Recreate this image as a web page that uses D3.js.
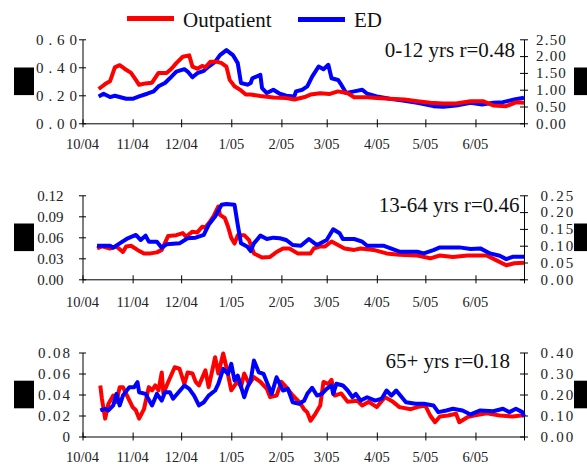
<!DOCTYPE html>
<html>
<head>
<meta charset="utf-8">
<script src="https://cdn.jsdelivr.net/npm/d3@7"></script>
<style>
	body { margin: 0; background: #fff; }
	svg, svg text { font-family: "Liberation Serif", "Times New Roman", Times, "DejaVu Serif", serif; }
</style>
</head>
<body>
<div id="chart-area"></div>
<script>

// ---- data (day = days since 1 Oct 2004) ----
let monthLabels = ["10/04", "11/04", "12/04", "1/05", "2/05", "3/05", "4/05", "5/05", "6/05"];
let ageGroups = ["0-12 yrs", "13-64 yrs", "65+ yrs"];
let rValues = ["0.48", "0.46", "0.18"];
let seriesNames = ["Outpatient", "ED"];

let leftTicks = [[0, 0.2, 0.4, 0.6], [0, 0.03, 0.06, 0.09, 0.12], [0, 0.02, 0.04, 0.06, 0.08]];
let leftTickLabels = [["0.00", "0.20", "0.40", "0.60"], ["0.00", "0.03", "0.06", "0.09", "0.12"], ["0", "0.02", "0.04", "0.06", "0.08"]];
let rightTicks = [[0, 0.5, 1, 1.5, 2, 2.5], [0, 0.05, 0.1, 0.15, 0.2, 0.25], [0, 0.1, 0.2, 0.3, 0.4]];

let outpatient012 = [[10,0.245],[14,0.28],[17,0.30],[20,0.40],[23,0.415],[26,0.39],[30,0.36],[33,0.31],[35,0.275],[39,0.285],
	[43,0.29],[47,0.36],[52,0.36],[55,0.39],[58,0.43],[62,0.475],[66,0.485],[68,0.405],[71,0.39],[74,0.41],[76,0.40],
	[79,0.44],[83,0.44],[86,0.43],[89,0.405],[91,0.31],[94,0.265],[98,0.235],[101,0.205],[104,0.205],[110,0.195],
	[118,0.185],[126,0.18],[131,0.17],[138,0.19],[141,0.205],[147,0.215],[153,0.21],[158,0.228],[164,0.215],[168,0.186],
	[176,0.186],[182,0.18],[190,0.175],[199,0.17],[207,0.157],[215,0.146],[223,0.141],[231,0.141],[240,0.157],[248,0.157],
	[254,0.127],[262,0.122],[268,0.15],[273,0.146]];
let ed012 = [[10,0.80],[13,0.88],[17,0.78],[20,0.82],[27,0.73],[31,0.73],[35,0.80],[40,0.88],[44,0.95],[47,1.10],[51,1.20],
	[54,1.34],[58,1.54],[63,1.61],[65,1.54],[68,1.37],[71,1.49],[75,1.56],[78,1.69],[82,1.83],[85,2.03],[89,2.18],[93,2.03],
	[96,1.79],[98,1.20],[102,1.15],[104,1.20],[105,1.34],[110,1.44],[111,1.05],[114,0.90],[118,1.0],[122,0.88],[126,0.82],
	[131,0.80],[132,0.95],[136,1.0],[139,1.10],[142,1.39],[146,1.69],[149,1.61],[152,1.74],[154,1.34],[158,1.29],[160,1.15],
	[163,0.90],[168,0.95],[173,1.0],[176,0.88],[182,0.80],[190,0.73],[198,0.68],[207,0.61],[217,0.51],[223,0.49],[231,0.53],
	[240,0.61],[247,0.56],[254,0.61],[260,0.63],[267,0.71],[273,0.76]];

let outpatient1364 = [[9,0.044],[12,0.047],[17,0.044],[21,0.047],[25,0.039],[27,0.047],[30,0.048],[34,0.042],[38,0.037],[42,0.037],
	[46,0.0385],[49,0.042],[53,0.062],[58,0.063],[62,0.066],[64,0.061],[68,0.068],[71,0.067],[74,0.075],[76,0.074],[79,0.083],
	[81,0.09],[84,0.104],[85,0.092],[88,0.0875],[90,0.075],[92,0.059],[94,0.051],[96,0.063],[100,0.063],[103,0.056],[106,0.037],
	[111,0.031],[116,0.032],[120,0.039],[124,0.044],[128,0.044],[133,0.037],[141,0.037],[143,0.044],[147,0.047],[150,0.047],
	[154,0.054],[158,0.049],[162,0.044],[168,0.042],[172,0.044],[180,0.042],[188,0.037],[196,0.035],[207,0.034],[215,0.030],
	[221,0.034],[229,0.032],[238,0.034],[250,0.034],[256,0.027],[262,0.020],[267,0.023],[273,0.0235]];
let ed1364 = [[9,0.10],[17,0.10],[19,0.094],[23,0.107],[28,0.122],[33,0.132],[36,0.117],[39,0.13],[41,0.112],[46,0.112],[49,0.094],
	[52,0.104],[60,0.107],[65,0.122],[70,0.124],[75,0.132],[78,0.162],[82,0.187],[86,0.222],[89,0.224],[94,0.222],[96,0.162],
	[98,0.107],[102,0.097],[104,0.084],[106,0.107],[110,0.13],[114,0.12],[118,0.124],[122,0.122],[126,0.117],[130,0.102],
	[135,0.10],[140,0.12],[145,0.102],[151,0.117],[155,0.149],[159,0.137],[161,0.12],[168,0.12],[173,0.112],[176,0.10],
	[186,0.10],[196,0.082],[207,0.082],[211,0.077],[217,0.087],[221,0.095],[233,0.095],[240,0.09],[246,0.092],[252,0.077],
	[258,0.07],[262,0.06],[266,0.067],[273,0.067]];

let outpatient65 = [[11,0.0486],[12,0.036],[14,0.017],[16,0.031],[19,0.039],[21,0.033],[23,0.047],[25,0.047],[28,0.0375],[31,0.028],
	[33,0.025],[35,0.017],[38,0.026],[41,0.047],[43,0.044],[45,0.0486],[47,0.044],[49,0.061],[50,0.041],[53,0.052],[57,0.066],
	[60,0.0645],[63,0.050],[65,0.061],[68,0.060],[70,0.052],[72,0.0486],[76,0.063],[78,0.047],[82,0.0755],[84,0.060],[87,0.079],
	[89,0.066],[92,0.044],[96,0.053],[98,0.047],[100,0.060],[103,0.050],[106,0.0565],[110,0.052],[114,0.0454],[116,0.0375],
	[120,0.039],[123,0.052],[126,0.047],[130,0.039],[134,0.033],[137,0.026],[139,0.023],[141,0.015],[144,0.0216],[147,0.0295],
	[149,0.052],[152,0.050],[154,0.054],[156,0.039],[160,0.041],[164,0.033],[170,0.034],[173,0.0295],[177,0.033],[182,0.028],
	[187,0.0375],[192,0.033],[196,0.028],[203,0.026],[207,0.028],[212,0.0295],[215,0.020],[218,0.0136],[221,0.019],[226,0.020],
	[231,0.0216],[233,0.0136],[238,0.0184],[242,0.020],[250,0.022],[258,0.020],[266,0.019],[271,0.020],[273,0.020]];
let ed65 = [[11,0.124],[14,0.132],[16,0.124],[19,0.148],[21,0.203],[23,0.148],[25,0.195],[29,0.235],[32,0.235],[34,0.259],[35,0.211],
	[39,0.203],[43,0.148],[46,0.203],[49,0.171],[51,0.211],[54,0.211],[56,0.18],[63,0.243],[66,0.227],[69,0.195],[72,0.148],
	[75,0.163],[78,0.195],[82,0.219],[84,0.251],[87,0.322],[90,0.298],[92,0.346],[94,0.267],[96,0.29],[100,0.187],[102,0.235],
	[104,0.267],[106,0.362],[109,0.306],[112,0.298],[114,0.259],[117,0.203],[120,0.282],[124,0.219],[127,0.227],[130,0.163],
	[134,0.156],[137,0.17],[139,0.203],[142,0.232],[145,0.195],[148,0.203],[151,0.227],[154,0.243],[155,0.203],[157,0.251],
	[161,0.243],[164,0.219],[167,0.187],[169,0.203],[172,0.171],[176,0.187],[181,0.171],[185,0.18],[188,0.219],[191,0.195],
	[194,0.219],[200,0.163],[206,0.156],[211,0.156],[217,0.148],[220,0.116],[225,0.124],[229,0.132],[235,0.124],[240,0.105],
	[246,0.124],[254,0.12],[260,0.132],[264,0.116],[268,0.132],[272,0.116],[273,0.095]];

let outpatient = [outpatient012, outpatient1364, outpatient65];
let ed = [ed012, ed1364, ed65];

// ---- layout ----
let width = 587, height = 464;
let fontFamily = "'Liberation Serif', 'Times New Roman', Times, 'DejaVu Serif', serif";
let plotLeft = 82.5, plotRight = 524;
let panelTop = [39.3, 195.3, 352.5];
let panelH = 84;
let xLabelOffset = [25.5, 27.5, 25];
let leftLabelEnd = [77, 63.5, 70];
let leftSpacing = [4.9, 0, 1.9];
let rightLabelStart = [536, 540.5, 540.5];
let rightSpacing = [1.2, 2.2, 2.2];
let noteEnd = [515, 519.5, 510];
let noteBase = [18, 16.4, 15.8];
let redOnTop = [true, false, false];

let startDate = new Date(2004, 9, 1);
let endDate = new Date(2005, 6, 1);
let toDate = day => d3.timeDay.offset(startDate, day);

let svg = d3.select("#chart-area").append("svg")
	.attr("width", width)
	.attr("height", height)
	.attr("font-family", fontFamily);

let xScale = d3.scaleTime()
	.domain([startDate, endDate])
	.range([plotLeft, plotRight]);

let monthTicks = d3.timeMonth.range(startDate, d3.timeDay.offset(endDate, 1));

// legend
let legendColors = ["#ff0000", "#0000ff"];
let legendX = [127, 298];
let legendY = [18.5, 19.5];
seriesNames.forEach((name, i) => {
	svg.append("line")
		.attr("x1", legendX[i]).attr("x2", legendX[i] + 47)
		.attr("y1", legendY[i]).attr("y2", legendY[i])
		.attr("stroke", legendColors[i])
		.attr("stroke-width", 5);
	svg.append("text")
		.attr("x", legendX[i] + 56)
		.attr("y", 27)
		.attr("font-family", fontFamily)
		.attr("font-size", 21)
		.attr("fill", "#111")
		.text(name);
});

ageGroups.forEach((group, i) => {
	let top = panelTop[i];
	let bottom = top + panelH;

	let yLeft = d3.scaleLinear()
		.domain([0, d3.max(leftTicks[i])])
		.range([bottom, top]);
	let yRight = d3.scaleLinear()
		.domain([0, d3.max(rightTicks[i])])
		.range([bottom, top]);

	let g = svg.append("g");

	// x axis
	let xAxis = d3.axisBottom(xScale)
		.tickValues(monthTicks)
		.tickSizeOuter(0)
		.tickFormat("");
	let xg = g.append("g")
		.attr("transform", `translate(0,${bottom})`)
		.call(xAxis);
	xg.selectAll(".tick line").attr("y1", -4).attr("y2", 4);

	g.selectAll(".xlab")
		.data(monthLabels)
		.enter().append("text")
		.attr("x", (d, k) => xScale(monthTicks[k]))
		.attr("y", bottom + xLabelOffset[i])
		.attr("text-anchor", "middle")
		.attr("font-family", fontFamily)
		.attr("font-size", 14.5)
		.attr("fill", "#222")
		.text(d => d);

	// left axis
	let yAxisL = d3.axisLeft(yLeft)
		.tickValues(leftTicks[i])
		.tickSizeOuter(0)
		.tickFormat("");
	let lg = g.append("g")
		.attr("transform", `translate(${plotLeft},0)`)
		.call(yAxisL);
	lg.selectAll(".tick line").attr("x1", -3.5).attr("x2", 3.5);

	g.selectAll(".llab")
		.data(leftTicks[i])
		.enter().append("text")
		.attr("x", leftLabelEnd[i] + leftSpacing[i])
		.attr("y", d => yLeft(d))
		.attr("dy", "0.35em")
		.attr("text-anchor", "end")
		.attr("font-family", fontFamily)
		.attr("font-size", 15)
		.attr("letter-spacing", leftSpacing[i])
		.attr("fill", "#222")
		.text((d, k) => leftTickLabels[i][k]);

	// right axis
	let yAxisR = d3.axisRight(yRight)
		.tickValues(rightTicks[i])
		.tickSizeOuter(0)
		.tickFormat("");
	let rg = g.append("g")
		.attr("transform", `translate(${plotRight},0)`)
		.call(yAxisR);
	rg.selectAll(".tick line").attr("x1", -4).attr("x2", 4);

	g.selectAll(".rlab")
		.data(rightTicks[i])
		.enter().append("text")
		.attr("x", rightLabelStart[i])
		.attr("y", d => yRight(d))
		.attr("dy", "0.35em")
		.attr("font-family", fontFamily)
		.attr("font-size", 15)
		.attr("letter-spacing", rightSpacing[i])
		.attr("fill", "#222")
		.text(d => d3.format(".2f")(d));

	g.selectAll(".domain").attr("stroke", "#000");
	g.selectAll(".tick line").attr("stroke", "#000");

	// lines
	let lineL = d3.line()
		.x(d => xScale(toDate(d[0])))
		.y(d => yLeft(d[1]));
	let lineR = d3.line()
		.x(d => xScale(toDate(d[0])))
		.y(d => yRight(d[1]));

	let drawRed = () => g.append("path")
		.attr("d", lineL(outpatient[i]))
		.attr("fill", "none")
		.attr("stroke", "#ff0000")
		.attr("stroke-width", 4)
		.attr("stroke-linejoin", "round");
	let drawBlue = () => g.append("path")
		.attr("d", lineR(ed[i]))
		.attr("fill", "none")
		.attr("stroke", "#0000ff")
		.attr("stroke-width", 4)
		.attr("stroke-linejoin", "round");

	if (redOnTop[i]) { drawBlue(); drawRed(); }
	else { drawRed(); drawBlue(); }

	// annotation
	g.append("text")
		.attr("x", noteEnd[i])
		.attr("y", top + noteBase[i])
		.attr("text-anchor", "end")
		.attr("font-family", fontFamily)
		.attr("font-size", 21)
		.attr("fill", "#111")
		.text(group + " r=" + rValues[i]);

	// blacked-out axis titles
	let mid = (top + bottom) / 2;
	g.append("rect")
		.attr("x", 14).attr("y", mid - 13.8)
		.attr("width", 20).attr("height", 27.6)
		.attr("fill", "#000");
	g.append("rect")
		.attr("x", 574).attr("y", mid - 13.8)
		.attr("width", 13).attr("height", 27.6)
		.attr("fill", "#000");
});

</script>
</body>
</html>
